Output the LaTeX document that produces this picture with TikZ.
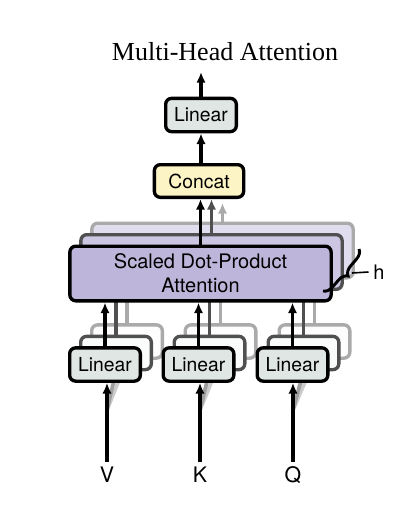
\documentclass[tikz,border=0pt]{standalone}
\usepackage{fontspec}
\setmainfont{Liberation Serif}
\setsansfont{TeX Gyre Heros}
\usetikzlibrary{arrows.meta,decorations.pathreplacing}

\definecolor{linfill}{RGB}{224,230,228}
\definecolor{catfill}{RGB}{252,244,196}
\definecolor{attfill}{RGB}{190,182,218}
\definecolor{attfillA}{RGB}{204,198,227}
\definecolor{attfillB}{RGB}{224,221,238}
\definecolor{edgeA}{RGB}{80,80,80}
\definecolor{edgeB}{RGB}{170,170,170}

\tikzset{every picture/.style={line width=0.75pt},
	blk/.style={draw=black, line width=2.5pt, rounded corners=4.5pt, inner sep=0pt, align=center,
		font=\sffamily\fontsize{14.5}{17.5}\selectfont},
	linbox/.style={blk, fill=linfill, minimum width=53pt, minimum height=25pt},
	catbox/.style={blk, fill=catfill, minimum width=67pt, minimum height=24.5pt},
	attbox/.style={blk, fill=attfill, minimum width=196pt, minimum height=41pt,
		font=\sffamily\fontsize{15}{18}\selectfont},
	copyA/.style={draw=edgeA, fill=white!85!linfill},
	copyB/.style={draw=edgeB, fill=white!93!linfill},
	attA/.style={draw=edgeA, fill=attfillA},
	attB/.style={draw=edgeB, fill=attfillB},
	arr/.style={line width=2.5pt, -{Latex[length=8pt,width=7pt]}},
	arrA/.style={arr, draw=edgeA, -{Latex[length=8pt,width=7pt,color=edgeA]}},
	arrB/.style={arr, draw=edgeB, -{Latex[length=8pt,width=7pt,color=edgeB]}},
	lineA/.style={line width=2.5pt, draw=edgeA},
	lineB/.style={line width=2.5pt, draw=edgeB},
	shadeA/.style={line width=2.8pt, draw=gray!75},
	shadeB/.style={line width=2.8pt, draw=gray!40},
	inlabel/.style={font=\sffamily\fontsize{16}{19}\selectfont}
}

\begin{document}
\begin{tikzpicture}[x=0.75pt,y=0.75pt,yscale=-1]
	\fill[white] (0,0) rectangle (420,514);
	\useasboundingbox (0,0) rectangle (420,514);

	% Text Node
	\node (title) at (225,52) {\fontsize{19.5}{22}\selectfont Multi-Head Attention};
	\coordinate (out) at (201,72);

	% Inputs
	\node[inlabel] (V) at (107,475) {V};
	\node[inlabel] (K) at (200,475) {K};
	\node[inlabel] (Q) at (293,475) {Q};
	\coordinate (Vs) at (107,410);
	\coordinate (Ks) at (200,410);
	\coordinate (Qs) at (293,410);

	%Back copies of the Linear boxes
	\node[linbox, copyB] (lin1b) at (127,341.5) {};
	\node[linbox, copyB] (lin2b) at (220.5,341.5) {};
	\node[linbox, copyB] (lin3b) at (314.5,341.5) {};
	\draw[lineB] (lin1b.north) -- (lin1b.north |- 0,302);
	\draw[lineB] (lin2b.north) -- (lin2b.north |- 0,302);
	\draw[lineB] (lin3b.north) -- (lin3b.north |- 0,302);
	\draw[shadeB] (Vs) -- (lin1b.south);
	\draw[shadeB] (Ks) -- (lin2b.south);
	\draw[shadeB] (Qs) -- (lin3b.south);
	\node[linbox, copyA] (lin1a) at (116,353) {};
	\node[linbox, copyA] (lin2a) at (209.5,353) {};
	\node[linbox, copyA] (lin3a) at (303.5,353) {};
	\draw[lineA] (lin1a.north) -- (lin1a.north |- 0,302);
	\draw[lineA] (lin2a.north) -- (lin2a.north |- 0,302);
	\draw[lineA] (lin3a.north) -- (lin3a.north |- 0,302);
	\draw[shadeA] (Vs) -- (lin1a.south);
	\draw[shadeA] (Ks) -- (lin2a.south);
	\draw[shadeA] (Qs) -- (lin3a.south);

	%Back copies of the attention box
	\node[attbox, attB] (attnb) at (222.5,250.5) {};
	\draw[arrB] (attnb.north) -- (attnb.north |- 0,203);
	\node[attbox, attA] (attna) at (211.5,262) {};
	\draw[arrA] (attna.north) -- (attna.north |- 0,199);

	% Front boxes
	\node[linbox] (lin1) at (105,364.5) {Linear};
	\node[linbox] (lin2) at (198.5,364.5) {Linear};
	\node[linbox] (lin3) at (292.5,364.5) {Linear};
	\node[attbox] (attn) at (200.5,273.5) {Scaled Dot-Product\\Attention};
	\node[catbox] (concat) at (199,181) {Concat};
	\node[linbox] (outlin) at (201,115) {Linear};

	%Straight Lines
	\draw[arr] (V.north) -- (V.north |- lin1.south);
	\draw[arr] (K.north) -- (K.north |- lin2.south);
	\draw[arr] (Q.north) -- (Q.north |- lin3.south);
	\draw[arr] (lin1.north) -- (lin1.north |- attn.south);
	\draw[arr] (lin2.north) -- (lin2.north |- attn.south);
	\draw[arr] (lin3.north) -- (lin3.north |- attn.south);
	\draw[arr] (attn.north) -- (attn.north |- concat.south);
	\draw[arr] (outlin.south |- concat.north) -- (outlin.south);
	\draw[arr] (outlin.north) -- (out);

	% Brace for h
	\draw[line width=2.2pt, decorate, decoration={brace, amplitude=7pt}] (359,249) -- (323,291);
	\coordinate (brtip) at (352,273);
	\node[inlabel, font=\sffamily\fontsize{15}{18}\selectfont] (h) at (379,272) {h};
	\draw[line width=1.2pt] (brtip) -- (h.west);

\end{tikzpicture}
\end{document}
